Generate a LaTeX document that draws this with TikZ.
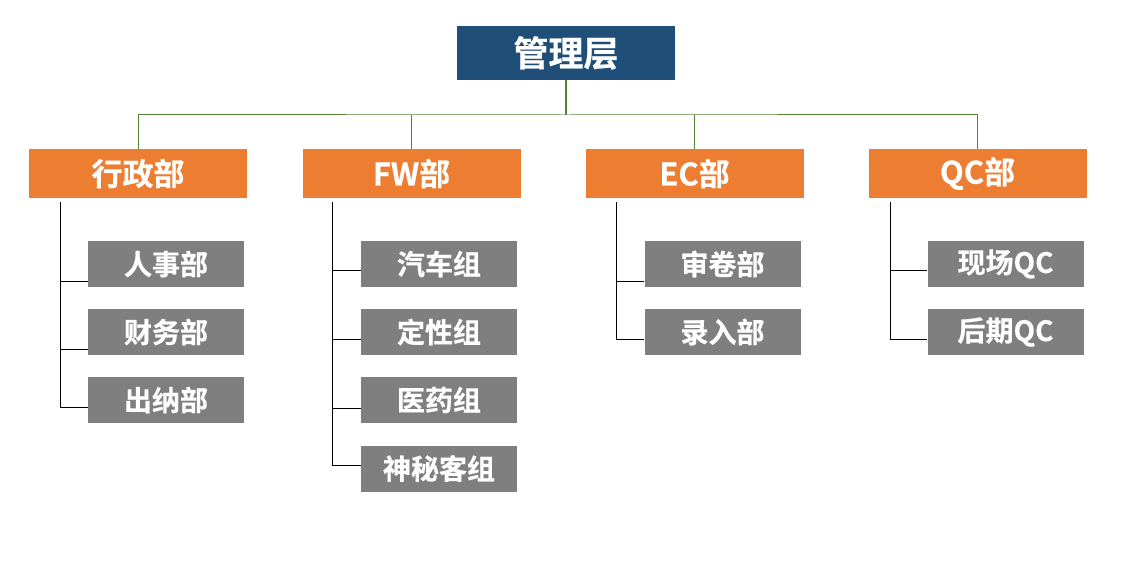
\documentclass[tikz,border=0pt]{standalone}
\usepackage{fontspec}
\setmainfont{Noto Sans CJK SC}[BoldFont={Noto Sans CJK SC Bold}]
\newfontfamily\heavy{Noto Sans CJK SC Bold}[FakeBold=0.6]
\begin{document}
\begin{tikzpicture}[x=1pt,y=-1pt,
  topbox/.style={fill=topblue,minimum width=218pt,minimum height=54pt,inner sep=0pt,text=white,font=\heavy\fontsize{35}{38}\selectfont},
  deptbox/.style={fill=deptorange,minimum width=218pt,minimum height=49pt,inner sep=0pt,text=white,font=\heavy\fontsize{31}{34}\selectfont},
  subbox/.style={fill=subgray,minimum width=156pt,minimum height=46pt,inner sep=0pt,text=white,font=\heavy\fontsize{28}{31}\selectfont},
  gline/.style={draw=linegreen,line width=1pt},
  bline/.style={draw=black,line width=1pt}]
\definecolor{topblue}{HTML}{1F4E79}
\definecolor{deptorange}{HTML}{ED7D31}
\definecolor{subgray}{HTML}{7F7F7F}
\definecolor{linegreen}{HTML}{548235}
\useasboundingbox (0,0) rectangle (1131,561);
% top
\node[topbox] (top) at (566,53) {管理层};
% departments
\node[deptbox] (o1) at (138,173.5) {行政部};
\node[deptbox] (o2) at (411.5,173.5) {FW部};
\node[deptbox] (o3) at (694.5,173.5) {EC部};
\node[deptbox] (o4) at (977.5,173.5) {QC部};
% sub units
\node[subbox] (g11) at (166,264) {人事部};
\node[subbox] (g12) at (166,332) {财务部};
\node[subbox] (g13) at (166,400) {出纳部};
\node[subbox] (g21) at (439,264) {汽车组};
\node[subbox] (g22) at (439,332) {定性组};
\node[subbox] (g23) at (439,400) {医药组};
\node[subbox] (g24) at (439,468.5) {神秘客组};
\node[subbox] (g31) at (722.5,264) {审卷部};
\node[subbox] (g32) at (722.5,332) {录入部};
\node[subbox] (g41) at (1005.5,264) {现场QC};
\node[subbox] (g42) at (1005.5,332) {后期QC};
% green connectors
\coordinate (bus) at (566,115);
\draw[gline,line width=1.8pt] (top.south) -- (bus);
\draw[gline] (o1.north) |- (bus) -| (o4.north);
\draw[gline] (o2.north) -- (o2.north |- bus);
\draw[gline] (o3.north) -- (o3.north |- bus);
% bracket tops
\coordinate (t1) at (60,202);
\coordinate (t2) at (332,202);
\coordinate (t3) at (616,202);
\coordinate (t4) at (890,202);
% horizontal ends
\coordinate (h11) at ([yshift=-17pt]g11.west);
\coordinate (h12) at ([yshift=-17pt]g12.west);
\coordinate (h13) at ([yshift=-7pt]g13.west);
\coordinate (h21) at ([yshift=-6pt]g21.west);
\coordinate (h22) at ([yshift=-7pt]g22.west);
\coordinate (h23) at ([yshift=-8pt]g23.west);
\coordinate (h24) at ([yshift=3pt]g24.west);
\coordinate (h31) at ([yshift=-17pt]g31.west);
\coordinate (h32) at ([yshift=-7pt]g32.west);
\coordinate (h41) at ([yshift=-6pt]g41.west);
\coordinate (h42) at ([yshift=-7pt]g42.west);
% black brackets
\draw[bline] (t1) |- (h13);
\draw[bline] (t1 |- h11) -- (h11);
\draw[bline] (t1 |- h12) -- (h12);
\draw[bline] (t2) |- (h24);
\draw[bline] (t2 |- h21) -- (h21);
\draw[bline] (t2 |- h22) -- (h22);
\draw[bline] (t2 |- h23) -- (h23);
\draw[bline] (t3) |- (h32);
\draw[bline] (t3 |- h31) -- (h31);
\draw[bline] (t4) |- (h42);
\draw[bline] (t4 |- h41) -- (h41);
\end{tikzpicture}
\end{document}
